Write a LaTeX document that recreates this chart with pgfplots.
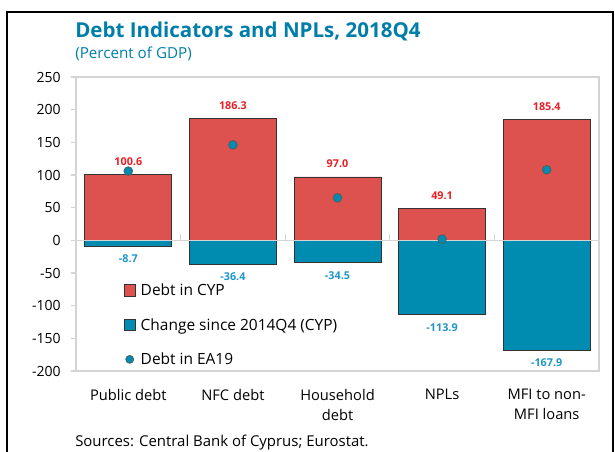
\documentclass[border=0pt]{standalone}
\usepackage{pgfplots}
\pgfplotsset{compat=1.18}
\usepackage{fontspec}
\setmainfont{Open Sans}
\definecolor{barred}{RGB}{221,81,79}
\definecolor{barteal}{RGB}{0,139,176}
\definecolor{labred}{RGB}{232,30,36}
\definecolor{labteal}{RGB}{30,150,200}
\definecolor{titleteal}{RGB}{0,126,170}
\definecolor{boxgray}{RGB}{212,212,212}
\begin{document}
\begin{tikzpicture}
\useasboundingbox (0pt,0pt) rectangle (461.25pt,339pt);
\draw[line width=1.5pt] (5.25pt,-4pt) -- (5.25pt,330pt) -- (459.75pt,330pt) -- (459.75pt,-4pt);
\node[anchor=base west, inner sep=0, font=\bfseries\fontsize{15.4}{18}\selectfont, text=titleteal] at (56.25pt,310.5pt) {Debt Indicators and NPLs, 2018Q4};
\node[anchor=base west, inner sep=0, font=\fontsize{11.4}{13}\selectfont, text=titleteal] at (56.25pt,294.75pt) {(Percent of GDP)};
\node[anchor=base west, inner sep=0, font=\fontsize{11.2}{12}\selectfont] at (56.25pt,3.75pt) {Sources: Central Bank of Cyprus; Eurostat.};
\begin{axis}[
  at={(57pt,60.75pt)}, anchor=south west, scale only axis,
  width=392.25pt, height=220.5pt,
  xmin=-0.5, xmax=4.5, ymin=-200, ymax=250,
  ytick={-200,-150,...,250},
  xtick={0,1,2,3,4},
  xticklabels={Public debt, NFC debt, Household\\debt, NPLs, MFI to non-\\MFI loans},
  xticklabel style={align=center, font=\fontsize{11}{15}\selectfont, yshift=-6pt},
  yticklabel style={font=\fontsize{10.5}{13}\selectfont, xshift=-4pt},
  /pgf/number format/assume math mode=true,
  x tick style={draw=none},
  ytick pos=left, tick align=outside,
  y tick style={boxgray, line width=1pt},
  major tick length=4pt,
  axis line style={boxgray, line width=1.2pt},
  legend style={draw=none, fill=none, at={(0.083,0.315)}, anchor=north west,
    font=\fontsize{11.6}{14}\selectfont, row sep=11.5pt},
  legend cell align=left,
]
\addplot[ybar, bar shift=0pt, bar width=0.83, fill=barred, draw=black!80, line width=0.6pt,
  nodes near coords,
  every node near coord/.append style={font=\bfseries\fontsize{8.1}{9}\selectfont, text=labred, anchor=south, yshift=3pt,
    /pgf/number format/.cd, fixed, precision=1, zerofill, assume math mode=true},
  legend image code/.code={\path[draw=none,fill=none] (0pt,0pt) -- (10.5pt,0pt);\draw[fill=barred, draw=black!80, line width=0.6pt] (0pt,-4pt) rectangle (8.5pt,4.5pt);}]
  coordinates {(0,100.6) (1,186.3) (2,97.0) (3,49.1) (4,185.4)};
\addlegendentry{Debt in CYP}
\addplot[ybar, bar shift=0pt, bar width=0.83, fill=barteal, draw=black!80, line width=0.6pt,
  nodes near coords,
  every node near coord/.append style={font=\bfseries\fontsize{8.1}{9}\selectfont, text=labteal, anchor=north, yshift=-3pt,
    /pgf/number format/.cd, fixed, precision=1, zerofill, assume math mode=true},
  legend image code/.code={\path[draw=none,fill=none] (0pt,0pt) -- (10.5pt,0pt);\draw[fill=barteal, draw=black!80, line width=0.6pt] (0pt,-4pt) rectangle (8.5pt,4.5pt);}]
  coordinates {(0,-8.7) (1,-36.4) (2,-34.5) (3,-113.9) (4,-167.9)};
\addlegendentry{Change since 2014Q4 (CYP)}
\draw[boxgray, line width=1.2pt] (axis cs:-0.5,0) -- (axis cs:4.5,0);
\draw[boxgray, line width=1pt] (axis cs:0.5,0) -- ++(0pt,5pt);
\draw[boxgray, line width=1pt] (axis cs:1.5,0) -- ++(0pt,5pt);
\draw[boxgray, line width=1pt] (axis cs:2.5,0) -- ++(0pt,5pt);
\draw[boxgray, line width=1pt] (axis cs:3.5,0) -- ++(0pt,5pt);
\addplot[only marks, mark=*, mark size=3.3pt, mark options={fill=barteal, draw=black!65, line width=0.5pt},
  legend image code/.code={\path[draw=none,fill=none] (0pt,0pt) -- (10.5pt,0pt);\draw[fill=barteal, draw=black!65, line width=0.5pt] (4.25pt,0.25pt) circle (3pt);}]
  coordinates {(0,106) (1,146) (2,65) (3,2) (4,108)};
\addlegendentry{Debt in EA19}
\end{axis}
\end{tikzpicture}
\end{document}
